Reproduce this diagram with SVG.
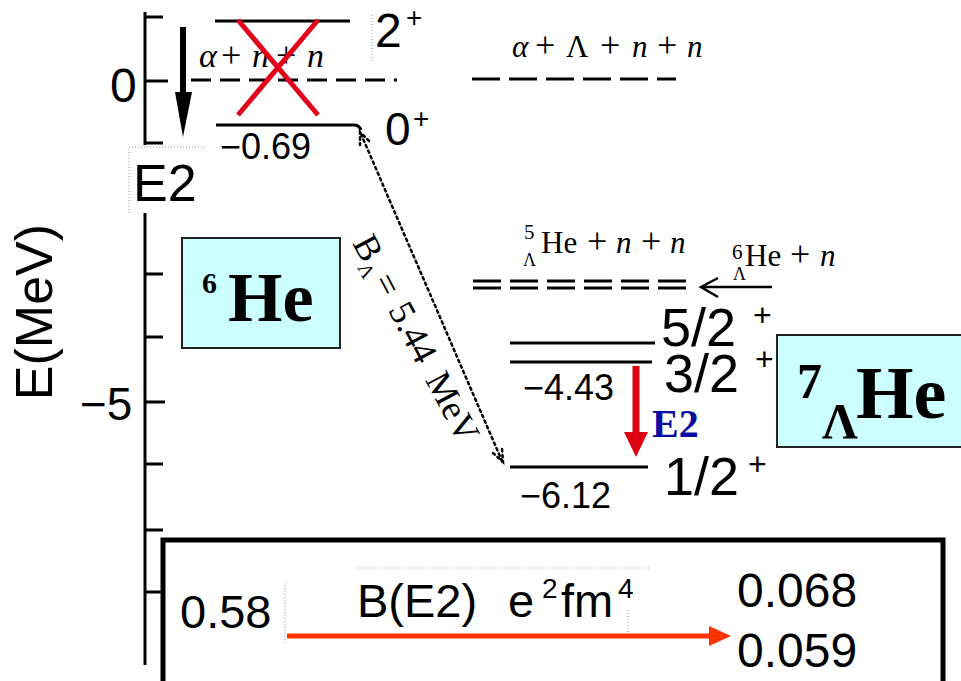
<svg xmlns="http://www.w3.org/2000/svg" width="961" height="681" viewBox="0 0 961 681">
<style>
.sans{font-family:"Liberation Sans",Arial,sans-serif;fill:#000}
.serif{font-family:"Liberation Serif","Times New Roman",serif;fill:#000}
.lvl{stroke:#000;stroke-width:3;fill:none}
.ax{stroke:#000;stroke-width:3;fill:none}
.dash{stroke:#000;stroke-width:3;fill:none;stroke-dasharray:28 9}
.dot{stroke:#000;stroke-width:2.5;fill:none;stroke-dasharray:2.5 3.5;stroke-linecap:round}
.faint{stroke:#999;stroke-width:1;fill:none;stroke-dasharray:1 2}
.box{fill:#ccffff;stroke:#222;stroke-width:2}
.it{font-style:italic}
.pl{font-size:36px}
</style>
<rect width="961" height="681" fill="#fff"/>

<g id="axis">
<path class="ax" d="M145,12 V145 M145,213 V665"/>
<path class="ax" d="M145,17 H163 M145,81 H168 M145,143 H163 M145,274 H163 M145,337 H163 M145,402 H165 M145,464 H163 M145,530 H163 M145,592 H163"/>
<text class="sans" x="110" y="102" font-size="48">0</text>
<text class="sans" x="80" y="420" font-size="46">−5</text>
<text class="sans" font-size="52" text-anchor="middle" transform="translate(52,312) rotate(-90)">E(MeV)</text>
</g>

<g id="he6-levels">
<line class="lvl" x1="215" y1="21" x2="350" y2="21"/>
<text class="sans" x="375" y="47" font-size="48">2</text>
<text class="sans" x="406" y="27" font-size="28">+</text>
<line class="faint" x1="372" y1="15" x2="372" y2="63"/>
<line class="dash" x1="191" y1="80" x2="397" y2="80" style="stroke-dasharray:20 9"/>
<text class="serif" y="67" font-size="34"><tspan class="it" x="199">α</tspan><tspan class="pl" x="221">+</tspan><tspan class="it" x="252">n</tspan><tspan class="pl" x="276">+</tspan><tspan class="it" x="307">n</tspan></text>
<path class="lvl" d="M216,125 H354 Q359,125 361,130"/>
<text class="sans" x="385" y="145" font-size="46">0</text>
<text class="sans" x="413" y="128" font-size="28">+</text>
<text class="sans" x="220" y="159" font-size="36">−0.69</text>
<g id="cross" stroke="#e3001b" stroke-width="5">
<line x1="238" y1="20" x2="318" y2="115"/>
<line x1="318" y1="20" x2="238" y2="115"/>
</g>
</g>

<g id="e2-left">
<line x1="183" y1="27" x2="183" y2="95" stroke="#000" stroke-width="6"/>
<polygon points="175,92 192,92 183,137" fill="#000"/>
<path class="faint" d="M129,213 V147 H205"/>
<text class="sans" x="133" y="201" font-size="52">E2</text>
</g>

<g id="he6-box">
<rect class="box" x="182" y="238" width="158" height="110"/>
<text class="serif" x="202" y="293" font-size="30" font-weight="bold">6</text>
<text class="serif" x="228" y="321" font-size="70" font-weight="bold">He</text>
</g>

<g id="threshold-right">
<line class="dash" x1="472" y1="79" x2="676" y2="79"/>
<text class="serif" y="57" font-size="31"><tspan class="it" x="512">α</tspan><tspan class="pl" x="535">+</tspan><tspan x="566">Λ</tspan><tspan class="pl" x="600">+</tspan><tspan class="it" x="632">n</tspan><tspan class="pl" x="657">+</tspan><tspan class="it" x="687">n</tspan></text>
<line class="dash" x1="473" y1="281" x2="690" y2="281"/>
<line class="dash" x1="473" y1="288" x2="690" y2="288"/>
<text class="serif" x="524" y="239" font-size="21">5</text>
<text class="serif" x="523" y="266" font-size="18">Λ</text>
<text class="serif" y="253" font-size="31"><tspan x="541">He</tspan><tspan class="pl" x="587">+</tspan><tspan class="it" x="616">n</tspan><tspan class="pl" x="641">+</tspan><tspan class="it" x="670">n</tspan></text>
<text class="serif" x="732" y="259" font-size="21">6</text>
<text class="serif" x="733" y="280" font-size="18">Λ</text>
<text class="serif" y="266" font-size="31"><tspan x="745">He</tspan><tspan class="pl" x="790">+</tspan><tspan class="it" x="820">n</tspan></text>
</g>

<g id="he7-levels">
<line class="lvl" x1="510" y1="343" x2="655" y2="343"/>
<line class="lvl" x1="510" y1="362" x2="652" y2="362"/>
<line class="lvl" x1="510" y1="467" x2="648" y2="467"/>
<text class="sans" x="661" y="346" font-size="54">5/2</text>
<text class="sans" x="753" y="326" font-size="32">+</text>
<text class="sans" x="664" y="392" font-size="54">3/2</text>
<text class="sans" x="755" y="370" font-size="32">+</text>
<text class="sans" x="664" y="495" font-size="54">1/2</text>
<text class="sans" x="748" y="475" font-size="32">+</text>
<text class="sans" x="523" y="400" font-size="36">−4.43</text>
<text class="sans" x="520" y="508" font-size="36">−6.12</text>
</g>

<g id="he7-box">
<rect class="box" x="777" y="335" width="190" height="112"/>
<text class="serif" x="797" y="398" font-size="50" font-weight="bold">7</text>
<text class="serif" x="822" y="438" font-size="50" font-weight="bold">Λ</text>
<text class="serif" x="856" y="418" font-size="74" font-weight="bold">He</text>
</g>

<g id="connectors">
<line x1="772" y1="287" x2="702" y2="287" stroke="#000" stroke-width="2.5"/>
<path d="M718,278 L701,287 L718,297" stroke="#000" stroke-width="2.5" fill="none"/>
<line class="dot" x1="361" y1="134" x2="502" y2="461"/>
<path class="dot" d="M369,141 L360,132 L360,145"/>
<path class="dot" d="M493,453 L503,462 L502,449"/>
<line x1="636" y1="366" x2="636" y2="435" stroke="#dd0011" stroke-width="7"/>
<polygon points="624,432 648,432 636,457" fill="#dd0011"/>
<text x="652" y="437" font-family="Liberation Serif,serif" font-size="40" font-weight="bold" fill="#0c0ca0">E2</text>
</g>

<g id="binding-label" transform="translate(352,243) rotate(62)">
<text class="serif" y="0" font-size="36"><tspan x="0">B</tspan><tspan x="24" dy="7" font-size="20">Λ</tspan><tspan x="43" dy="-7">=</tspan><tspan x="76">5.44</tspan><tspan x="155">MeV</tspan></text>
</g>

<g id="be2-box">
<rect x="163" y="540" width="780" height="160" fill="none" stroke="#000" stroke-width="5"/>
<line class="faint" x1="285" y1="582" x2="285" y2="643"/>
<line class="faint" x1="357" y1="568" x2="651" y2="568"/>
<line class="faint" x1="628" y1="610" x2="628" y2="632"/>
<text class="sans" x="180" y="628" font-size="47">0.58</text>
<text class="sans" x="357" y="617" font-size="47">B(E2)</text>
<text class="sans" x="508" y="617" font-size="47">e</text>
<text class="sans" x="542" y="598" font-size="28">2</text>
<text class="sans" x="561" y="617" font-size="47">fm</text>
<text class="sans" x="618" y="598" font-size="28">4</text>
<text class="sans" x="737" y="607" font-size="48">0.068</text>
<text class="sans" x="737" y="667" font-size="48">0.059</text>
<line x1="287" y1="636" x2="712" y2="636" stroke="#ff3300" stroke-width="5"/>
<polygon points="709,626 731,636 709,646" fill="#ff3300"/>
</g>
</svg>
